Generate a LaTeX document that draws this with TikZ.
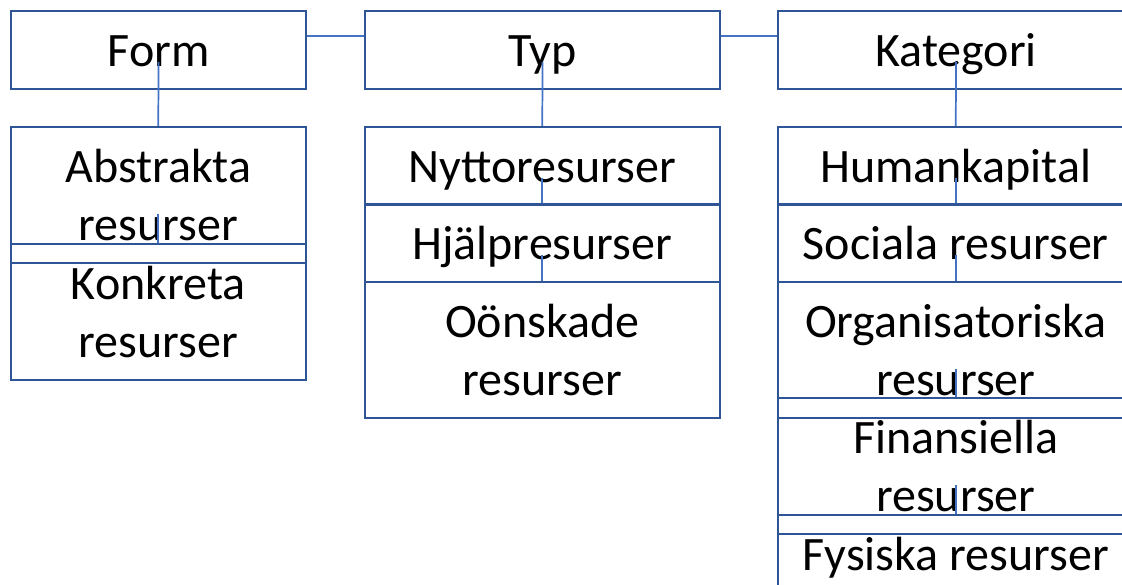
\documentclass[tikz,border=0pt]{standalone}
\usepackage{fontspec}
\setmainfont{Carlito}
\usetikzlibrary{calc}
\definecolor{boxblue}{HTML}{2F5597}
\definecolor{linkblue}{HTML}{4472C4}
\tikzset{
  head/.style={draw=boxblue,line width=1.5pt,minimum height=58.5pt,inner sep=0pt,
    anchor=north west,align=center,font=\fontsize{36}{43.5}\selectfont},
  one/.style={text height=31.5pt,text depth=6pt},
  item/.style={head,line width=1.2pt},
  tall/.style={minimum height=102pt},
  link/.style={draw=linkblue,line width=1.3pt}
}
\begin{document}
\begin{tikzpicture}[x=0.75pt,y=-0.75pt]
\useasboundingbox (0,0) rectangle (1122,585);
\clip (0,0) rectangle (1122,585);
% top row
\node[head,one,minimum width=221.25pt] (form) at (10,10) {Form};
\node[head,one,minimum width=266.25pt] (typ) at (364,10) {Typ};
\node[head,one,minimum width=267pt] (kat) at (777,10) {Kategori};
% form
\node[item,tall,minimum width=221.25pt] (abstr) at (10,126) {Abstrakta\\resurser};
\node[item,tall,minimum width=221.25pt] (konkr) at (10,243) {Konkreta\\resurser};
% typ
\node[item,one,minimum width=266.25pt] (nytto) at (364,126) {Nyttoresurser};
\node[item,one,minimum width=266.25pt] (hjalp) at (364,203) {Hjälpresurser};
\node[item,tall,minimum width=266.25pt] (oonsk) at (364,281) {Oönskade\\resurser};
% kategori
\node[item,one,minimum width=267pt] (human) at (777,126) {Humankapital};
\node[item,one,minimum width=267pt] (social) at (777,203) {Sociala resurser};
\node[item,tall,minimum width=267pt] (org) at (777,281) {Organisatoriska\\resurser};
\node[item,tall,minimum width=267pt] (fin) at (777,397) {Finansiella\\resurser};
\node[item,one,minimum width=267pt] (fys) at (777,514) {Fysiska resurser};
% connectors
\draw[link] ($(form.east)+(0,-14)$) -- ($(typ.west)+(0,-14)$);
\draw[link] ($(typ.east)+(0,-14)$) -- ($(kat.west)+(0,-14)$);
\draw[link] ($(form.center)+(0,12)$) -- (abstr.north);
\draw[link] ($(abstr.center)+(0,19)$) -- (konkr.north);
\draw[link] ($(typ.center)+(0,12)$) -- (nytto.north);
\draw[link] ($(nytto.center)+(0,12)$) -- (hjalp.north);
\draw[link] ($(hjalp.center)+(0,12)$) -- (oonsk.north);
\draw[link] ($(kat.center)+(0,12)$) -- (human.north);
\draw[link] ($(human.center)+(0,12)$) -- (social.north);
\draw[link] ($(social.center)+(0,12)$) -- (org.north);
\draw[link] ($(org.center)+(0,19)$) -- (fin.north);
\draw[link] ($(fin.center)+(0,19)$) -- (fys.north);
\end{tikzpicture}
\end{document}
